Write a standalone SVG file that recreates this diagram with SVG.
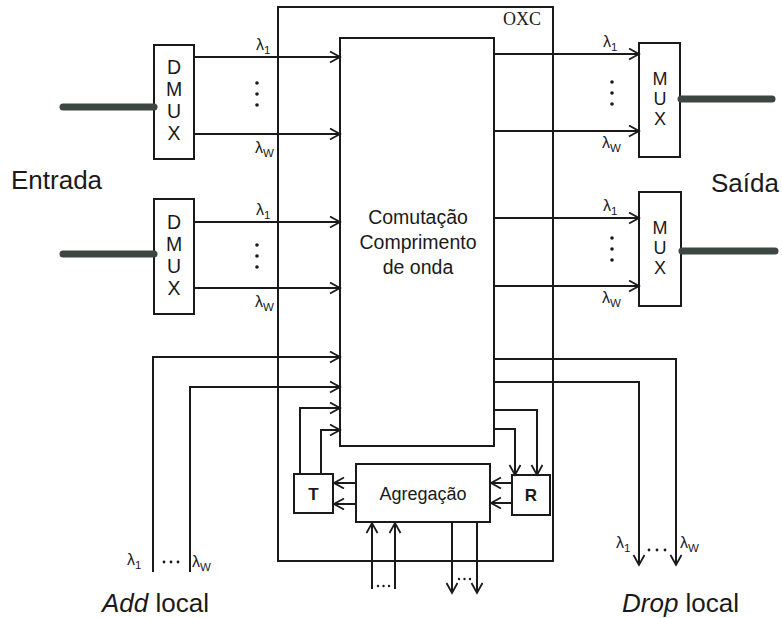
<svg xmlns="http://www.w3.org/2000/svg" width="782" height="618" viewBox="0 0 782 618">
<defs>
<marker id="ah" markerUnits="userSpaceOnUse" markerWidth="14" markerHeight="14" refX="11" refY="6" orient="auto">
<path d="M1,0.5 L11,6 L1,11.5" fill="none" stroke="#1a1a1a" stroke-width="1.8"/>
</marker>
<style>
.box{fill:#fff;stroke:#1a1a1a;stroke-width:2}
.ar{fill:none;stroke:#1a1a1a;stroke-width:2;marker-end:url(#ah)}
.fib{stroke:#3d4742;stroke-width:7;stroke-linecap:round}
.t{font-family:"Liberation Sans",Arial,sans-serif;fill:#1a1a1a}
.vt{font-family:"Liberation Sans",Arial,sans-serif;fill:#1a1a1a;writing-mode:vertical-rl;text-orientation:upright;text-anchor:middle}
.lb{font-size:26px}
.lam{font-family:"Liberation Sans",Arial,sans-serif;font-size:16px;fill:#1a1a1a}
.sub{font-size:11.5px}
.dot{fill:#1a1a1a}
</style>
</defs>
<rect width="782" height="618" fill="#fff"/>

<g id="oxc">
<rect class="box" x="278" y="7" width="275" height="554" fill="none"/>
<text x="503" y="25" font-family="Liberation Serif,serif" font-size="18" fill="#1a1a1a">OXC</text>
</g>

<g id="switch">
<rect class="box" x="340" y="38" width="154" height="408"/>
<text class="t" x="418" y="224" font-size="19.5" text-anchor="middle">Comutação</text>
<text class="t" x="418" y="249" font-size="19.5" text-anchor="middle">Comprimento</text>
<text class="t" x="418" y="274" font-size="19.5" text-anchor="middle">de onda</text>
</g>

<g id="dmux1">
<rect class="box" x="154" y="45" width="40" height="114"/>
<text class="vt" x="174" y="100" font-size="19.5">DMUX</text>
</g>
<g id="dmux2">
<rect class="box" x="154" y="199" width="40" height="115"/>
<text class="vt" x="174" y="255" font-size="19.5">DMUX</text>
</g>
<g id="mux1">
<rect class="box" x="639" y="43" width="41" height="114"/>
<text class="vt" x="660" y="99" font-size="18">MUX</text>
</g>
<g id="mux2">
<rect class="box" x="639" y="192" width="42" height="114"/>
<text class="vt" x="660" y="248" font-size="18">MUX</text>
</g>

<g id="t-box">
<rect class="box" x="294" y="474" width="39" height="39"/>
<text class="t" x="313.5" y="500" font-size="17" font-weight="bold" text-anchor="middle">T</text>
</g>
<g id="agregacao">
<rect class="box" x="356" y="464" width="134" height="58"/>
<text class="t" x="423" y="500" font-size="18" text-anchor="middle">Agregação</text>
</g>
<g id="r-box">
<rect class="box" x="512" y="475" width="38" height="40"/>
<text class="t" x="531" y="501" font-size="17" font-weight="bold" text-anchor="middle">R</text>
</g>

<g id="connectors">
<line class="fib" x1="63" y1="107" x2="154" y2="107"/>
<line class="fib" x1="63" y1="254" x2="154" y2="254"/>
<line class="fib" x1="681" y1="99" x2="772" y2="99"/>
<line class="fib" x1="682" y1="251" x2="775" y2="251"/>
<line class="ar" x1="194" y1="57" x2="340" y2="57"/>
<line class="ar" x1="194" y1="134" x2="340" y2="134"/>
<line class="ar" x1="194" y1="222" x2="340" y2="222"/>
<line class="ar" x1="194" y1="288" x2="340" y2="288"/>
<line class="ar" x1="494" y1="54" x2="639" y2="54"/>
<line class="ar" x1="494" y1="131" x2="639" y2="131"/>
<line class="ar" x1="494" y1="218" x2="639" y2="218"/>
<line class="ar" x1="494" y1="286" x2="639" y2="286"/>
<polyline class="ar" points="153,572 153,357 340,357"/>
<polyline class="ar" points="190,572 190,387 340,387"/>
<polyline class="ar" points="300,474 300,408 340,408"/>
<polyline class="ar" points="321,474 321,430 340,430"/>
<polyline class="ar" points="494,410 537,410 537,475"/>
<polyline class="ar" points="494,429 515,429 515,475"/>
<line class="ar" x1="356" y1="483" x2="334" y2="483"/>
<line class="ar" x1="356" y1="504" x2="334" y2="504"/>
<line class="ar" x1="512" y1="483" x2="491" y2="483"/>
<line class="ar" x1="512" y1="503" x2="491" y2="503"/>
<polyline class="ar" points="494,359 676,359 676,565"/>
<polyline class="ar" points="494,382 639,382 639,565"/>
<line class="ar" x1="372" y1="589" x2="372" y2="523"/>
<line class="ar" x1="395" y1="589" x2="395" y2="523"/>
<line class="ar" x1="452" y1="522" x2="452" y2="593"/>
<line class="ar" x1="477" y1="522" x2="477" y2="593"/>
</g>

<g id="labels">
<text class="t lb" x="11" y="189">Entrada</text>
<text class="t lb" x="711" y="192">Saída</text>
<text class="t lb" x="102" y="612"><tspan font-style="italic">Add</tspan> local</text>
<text class="t lb" x="622" y="612"><tspan font-style="italic">Drop</tspan> local</text>

<text class="lam" x="256" y="50">λ<tspan class="sub" dy="4">1</tspan></text>
<text class="lam" x="255" y="153">λ<tspan class="sub" dy="4">W</tspan></text>
<text class="lam" x="256" y="215">λ<tspan class="sub" dy="4">1</tspan></text>
<text class="lam" x="255" y="307">λ<tspan class="sub" dy="4">W</tspan></text>
<text class="lam" x="603" y="47">λ<tspan class="sub" dy="4">1</tspan></text>
<text class="lam" x="602" y="148">λ<tspan class="sub" dy="4">W</tspan></text>
<text class="lam" x="603" y="211">λ<tspan class="sub" dy="4">1</tspan></text>
<text class="lam" x="602" y="303">λ<tspan class="sub" dy="4">W</tspan></text>
<text class="lam" x="127" y="565">λ<tspan class="sub" dy="4">1</tspan></text>
<text class="lam" x="192" y="567">λ<tspan class="sub" dy="4">W</tspan></text>
<text class="lam" x="616" y="548">λ<tspan class="sub" dy="4">1</tspan></text>
<text class="lam" x="680" y="548">λ<tspan class="sub" dy="4">W</tspan></text>

<circle class="dot" cx="257" cy="83" r="1.8"/><circle class="dot" cx="257" cy="94" r="1.8"/><circle class="dot" cx="257" cy="105" r="1.8"/>
<circle class="dot" cx="257" cy="245" r="1.8"/><circle class="dot" cx="257" cy="256" r="1.8"/><circle class="dot" cx="257" cy="267" r="1.8"/>
<circle class="dot" cx="612" cy="82" r="1.8"/><circle class="dot" cx="612" cy="93" r="1.8"/><circle class="dot" cx="612" cy="104" r="1.8"/>
<circle class="dot" cx="612" cy="238" r="1.8"/><circle class="dot" cx="612" cy="249" r="1.8"/><circle class="dot" cx="612" cy="260" r="1.8"/>
<circle class="dot" cx="164" cy="562" r="1.4"/><circle class="dot" cx="171" cy="562" r="1.4"/><circle class="dot" cx="178" cy="562" r="1.4"/>
<circle class="dot" cx="649" cy="550" r="1.4"/><circle class="dot" cx="657" cy="550" r="1.4"/><circle class="dot" cx="665" cy="550" r="1.4"/>
<circle class="dot" cx="378" cy="586" r="1.2"/><circle class="dot" cx="383.5" cy="586" r="1.2"/><circle class="dot" cx="389" cy="586" r="1.2"/>
<circle class="dot" cx="459" cy="579" r="1.2"/><circle class="dot" cx="464.5" cy="579" r="1.2"/><circle class="dot" cx="470" cy="579" r="1.2"/>
</g>
</svg>
